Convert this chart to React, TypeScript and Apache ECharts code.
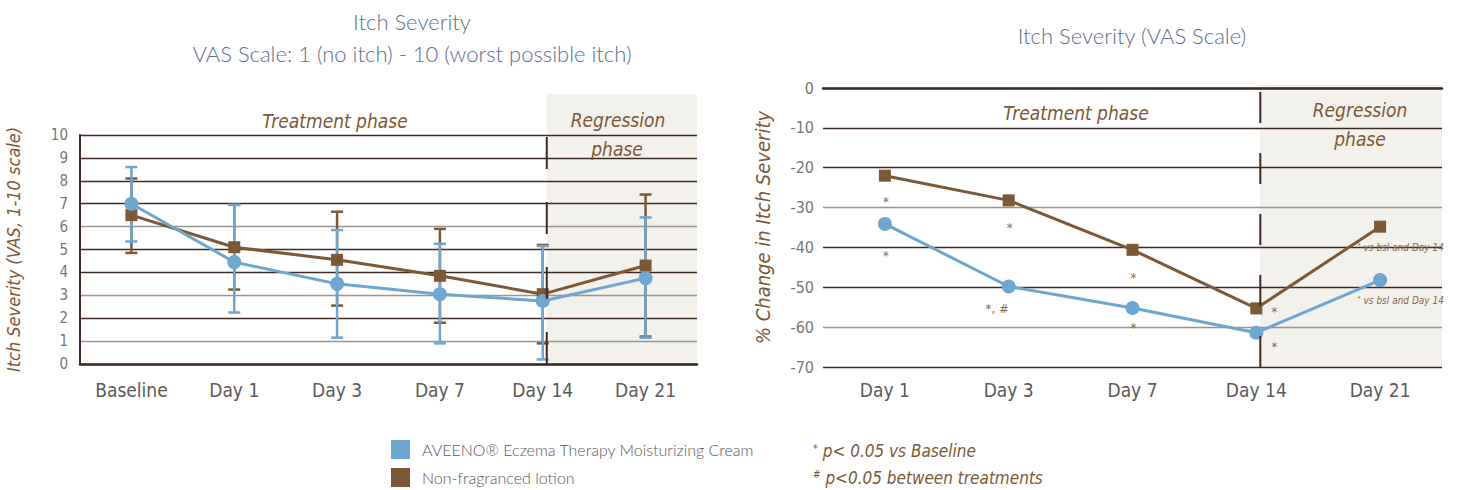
import React, { useEffect, useRef } from "react";
import * as echarts from "echarts";

// ---- data ----
const visitsLeft = ["Baseline", "Day 1", "Day 3", "Day 7", "Day 14", "Day 21"];
const aveenoScore = [7.0, 4.45, 3.5, 3.05, 2.75, 3.75];
const aveenoLow = [5.35, 2.25, 1.15, 0.9, 0.2, 1.15];
const aveenoHigh = [8.6, 6.95, 5.85, 5.25, 5.15, 6.4];
const lotionScore = [6.5, 5.1, 4.55, 3.85, 3.05, 4.3];
const lotionLow = [4.85, 3.25, 2.55, 1.8, 0.9, 1.2];
const lotionHigh = [8.1, 6.95, 6.65, 5.9, 5.2, 7.4];

const visitsRight = ["Day 1", "Day 3", "Day 7", "Day 14", "Day 21"];
const aveenoChange = [-34.1, -49.8, -55.2, -61.4, -48.2];
const lotionChange = [-22.0, -28.2, -40.6, -55.3, -34.8];

// significance marks: visit index, value level, text
const sigVisit = [0, 0, 1, 1, 2, 2, 3, 3, 4, 4];
const sigLevel = [-27.8, -41.2, -34.3, -54.6, -46.8, -59.3, -55.4, -64.0, -40.0, -53.2];
const sigText = ["*", "*", "*", "*, #", "*", "*", "*", "*", "* vs bsl and Day 14", "* vs bsl and Day 14"];

const seriesNames = ["AVEENO® Eczema Therapy Moisturizing Cream", "Non-fragranced lotion"];

// ---- styling ----
const BLUE = "#6ca6d1";
const BROWN = "#7c5836";
const NOTE = "#8a6849";
const DARK = "#3d2b24";
const LIGHT = "#9d948f";
const SHADE = "#f3f1ec";
const TITLE = "#5f6f8c";
const LABEL = "#5a5a5a";
const NARROW = "'Liberation Sans Narrow', 'DejaVu Sans Condensed', sans-serif";
const LATO = "Lato, 'Open Sans', sans-serif";

const L = { left: 80, width: 617, top: 135, bottom: 126 };
const R = { left: 823, width: 619, top: 88, bottom: 123 };

function errorBars(low: number[], high: number[], color: string, name: string) {
  return {
    type: "custom",
    name,
    xAxisIndex: 0,
    yAxisIndex: 0,
    encode: { x: 0, y: [1, 2] },
    data: low.map((lo, i) => [i, lo, high[i]]),
    renderItem: (_p: any, api: any) => {
      const a = api.coord([api.value(0), api.value(1)]);
      const b = api.coord([api.value(0), api.value(2)]);
      const w = 6;
      const st = { stroke: color, lineWidth: 2.5 };
      return {
        type: "group",
        children: [
          { type: "line", shape: { x1: a[0], y1: a[1], x2: b[0], y2: b[1] }, style: st },
          { type: "line", shape: { x1: a[0] - w, y1: a[1], x2: a[0] + w, y2: a[1] }, style: st },
          { type: "line", shape: { x1: b[0] - w, y1: b[1], x2: b[0] + w, y2: b[1] }, style: st },
        ],
      };
    },
  };
}

export default function App() {
  const ref = useRef<HTMLDivElement>(null);

  useEffect(() => {
    if (!ref.current) return;
    const chart = echarts.init(ref.current, undefined, { renderer: "svg" });

    const axisLabelX = { color: LABEL, fontSize: 19, fontFamily: NARROW, interval: 0 };
    const axisLabelY = { color: "#777", fontSize: 15, fontFamily: NARROW };

    const option: any = {
      animation: false,
      backgroundColor: "#fff",
      title: [
        {
          text: "Itch Severity\nVAS Scale: 1 (no itch) - 10 (worst possible itch)",
          left: 407,
          top: 0,
          textAlign: "center",
          textStyle: { color: TITLE, fontSize: 22, fontWeight: 300, fontFamily: LATO, lineHeight: 32 },
        },
        {
          text: "Itch Severity (VAS Scale)",
          left: 1127,
          top: 19,
          textAlign: "center",
          textStyle: { color: TITLE, fontSize: 22, fontWeight: 300, fontFamily: LATO },
        },
      ],
      legend: {
        data: seriesNames,
        orient: "vertical",
        left: 391,
        top: 440,
        padding: 0,
        itemWidth: 19,
        itemHeight: 19,
        itemGap: 9,
        icon: "rect",
        selectedMode: false,
        textStyle: { color: LABEL, fontSize: 16, fontFamily: LATO, fontWeight: 300, padding: [0, 0, 0, 7] },
      },
      grid: [
        { left: L.left, width: L.width, top: L.top, bottom: L.bottom },
        { left: R.left, width: R.width, top: R.top, bottom: R.bottom },
      ],
      xAxis: [
        {
          type: "category",
          gridIndex: 0,
          data: visitsLeft,
          axisLine: { lineStyle: { color: DARK, width: 2.5 } },
          axisTick: { show: false },
          axisLabel: { ...axisLabelX, margin: 16 },
        },
        {
          type: "category",
          gridIndex: 1,
          data: visitsRight,
          axisLine: { lineStyle: { color: DARK, width: 2.5 } },
          axisTick: { show: false },
          axisLabel: { ...axisLabelX, margin: 13 },
        },
      ],
      yAxis: [
        {
          type: "value",
          gridIndex: 0,
          min: 0,
          max: 10,
          interval: 1,
          name: "Itch Severity (VAS, 1-10 scale)",
          nameLocation: "middle",
          nameGap: 58,
          nameTextStyle: { color: BROWN, fontSize: 18, fontStyle: "italic", fontFamily: NARROW },
          axisLine: { show: true, lineStyle: { color: DARK, width: 2 } },
          axisTick: { show: false },
          axisLabel: { ...axisLabelY, margin: 12 },
          splitLine: {
            lineStyle: {
              width: 1.3,
              color: [DARK, LIGHT, DARK, LIGHT, DARK, DARK, LIGHT, DARK, DARK, DARK, DARK],
            },
          },
        },
        {
          type: "value",
          gridIndex: 1,
          min: -70,
          max: 0,
          interval: 10,
          name: "% Change in Itch Severity",
          nameLocation: "middle",
          nameGap: 50,
          nameTextStyle: { color: BROWN, fontSize: 20, fontStyle: "italic", fontFamily: NARROW },
          axisLine: { show: false },
          axisTick: { show: false },
          axisLabel: { ...axisLabelY, fontSize: 16, margin: 9, padding: [6, 0, 0, 0] },
          splitLine: {
            lineStyle: {
              width: 1.3,
              color: [DARK, LIGHT, DARK, DARK, LIGHT, DARK, DARK, DARK],
            },
          },
        },
      ],
      series: [
        errorBars(lotionLow, lotionHigh, BROWN, "lotion range"),
        {
          type: "line",
          name: seriesNames[1],
          xAxisIndex: 0,
          yAxisIndex: 0,
          data: lotionScore,
          symbol: "rect",
          symbolSize: 12,
          color: BROWN,
          lineStyle: { width: 3, color: BROWN },
          itemStyle: { color: BROWN },
        },
        errorBars(aveenoLow, aveenoHigh, BLUE, "aveeno range"),
        {
          type: "line",
          name: seriesNames[0],
          xAxisIndex: 0,
          yAxisIndex: 0,
          data: aveenoScore,
          symbol: "circle",
          symbolSize: 14,
          color: BLUE,
          lineStyle: { width: 3, color: BLUE },
          itemStyle: { color: BLUE },
        },
        {
          type: "line",
          name: seriesNames[1],
          xAxisIndex: 1,
          yAxisIndex: 1,
          data: lotionChange,
          symbol: "rect",
          symbolSize: 12,
          color: BROWN,
          lineStyle: { width: 3, color: BROWN },
          itemStyle: { color: BROWN },
        },
        {
          type: "line",
          name: seriesNames[0],
          xAxisIndex: 1,
          yAxisIndex: 1,
          data: aveenoChange,
          symbol: "circle",
          symbolSize: 14,
          color: BLUE,
          lineStyle: { width: 3, color: BLUE },
          itemStyle: { color: BLUE },
        },
        {
          type: "custom",
          name: "significance",
          xAxisIndex: 1,
          yAxisIndex: 1,
          clip: false,
          encode: { x: 0, y: 1 },
          data: sigVisit.map((v, i) => [v, sigLevel[i]]),
          renderItem: (params: any, api: any) => {
            const i = params.dataIndex;
            const p = api.coord([api.value(0), api.value(1)]);
            const text = sigText[i];
            if (text.startsWith("* ")) {
              return {
                type: "text",
                x: R.left + R.width + 2,
                y: p[1],
                style: {
                  text: "{s|*}{t|" + text.slice(1) + "}",
                  align: "right",
                  verticalAlign: "middle",
                  rich: {
                    s: { fontSize: 7, fill: NOTE, verticalAlign: "top", fontFamily: NARROW },
                    t: { fontSize: 10, fill: NOTE, fontStyle: "italic", fontFamily: NARROW },
                  },
                },
              };
            }
            const side = api.value(0) === 3;
            const multi = text.length > 1;
            return {
              type: "text",
              x: side ? p[0] + 18 : multi ? p[0] : p[0] + 1,
              y: p[1] + 3,
              style: {
                text,
                fill: NOTE,
                fontSize: 13,
                fontFamily: NARROW,
                align: multi ? "right" : "center",
                verticalAlign: "middle",
              },
            };
          },
        },
      ],
    };

    chart.setOption(option);

    // phase shading and divider, placed from the axes
    const lx = chart.convertToPixel({ xAxisIndex: 0, yAxisIndex: 0 }, [4, 10]) as number[];
    const lb = chart.convertToPixel({ xAxisIndex: 0, yAxisIndex: 0 }, [4, 0]) as number[];
    const rx = chart.convertToPixel({ xAxisIndex: 1, yAxisIndex: 1 }, [3, 0]) as number[];
    const rb = chart.convertToPixel({ xAxisIndex: 1, yAxisIndex: 1 }, [3, -70]) as number[];
    const lDiv = lx[0] + 4;
    const rDiv = rx[0] + 4;
    const phaseFont = { fill: BROWN, fontSize: 19, fontStyle: "italic", fontFamily: NARROW, align: "center", verticalAlign: "middle" };

    chart.setOption({
      graphic: [
        { type: "rect", z: -10, shape: { x: lDiv, y: lx[1] - 41, width: L.left + L.width - lDiv, height: lb[1] - lx[1] + 41 }, style: { fill: SHADE } },
        { type: "rect", z: -10, shape: { x: rDiv, y: rx[1] - 3, width: R.left + R.width - rDiv, height: rb[1] - rx[1] + 3 }, style: { fill: SHADE } },
        { type: "line", z: 50, shape: { x1: lDiv, y1: lb[1], x2: lDiv, y2: lx[1] }, style: { stroke: DARK, lineWidth: 2, lineDash: [32, 33] } },
        { type: "line", z: 50, shape: { x1: rDiv, y1: rb[1], x2: rDiv, y2: rx[1] + 3 }, style: { stroke: DARK, lineWidth: 2, lineDash: [31, 30] } },
        { type: "text", x: 335, y: 121, style: { text: "Treatment phase", ...phaseFont } },
        { type: "text", x: 618, y: 120, style: { text: "Regression", ...phaseFont } },
        { type: "text", x: 617, y: 149, style: { text: "phase", ...phaseFont } },
        { type: "text", x: 1076, y: 113, style: { text: "Treatment phase", ...phaseFont } },
        { type: "text", x: 1360, y: 110, style: { text: "Regression", ...phaseFont } },
        { type: "text", x: 1360, y: 139, style: { text: "phase", ...phaseFont } },
        {
          type: "text",
          x: 813,
          y: 451,
          style: {
            text: "{s|*}{t| p< 0.05 vs Baseline}",
            verticalAlign: "middle",
            rich: {
              s: { fontSize: 11, fill: BROWN, verticalAlign: "top", fontFamily: NARROW },
              t: { fontSize: 17, fill: BROWN, fontStyle: "italic", fontFamily: NARROW },
            },
          },
        },
        {
          type: "text",
          x: 813,
          y: 478,
          style: {
            text: "{s|#}{t| p<0.05 between treatments}",
            verticalAlign: "middle",
            rich: {
              s: { fontSize: 10, fill: BROWN, verticalAlign: "top", fontFamily: NARROW },
              t: { fontSize: 17, fill: BROWN, fontStyle: "italic", fontFamily: NARROW },
            },
          },
        },
      ],
    });

    return () => chart.dispose();
  }, []);

  return (
    <div
      ref={ref}
      style={{ position: "fixed", left: 0, top: 0, width: 1460, height: 490, background: "#fff" }}
    />
  );
}
